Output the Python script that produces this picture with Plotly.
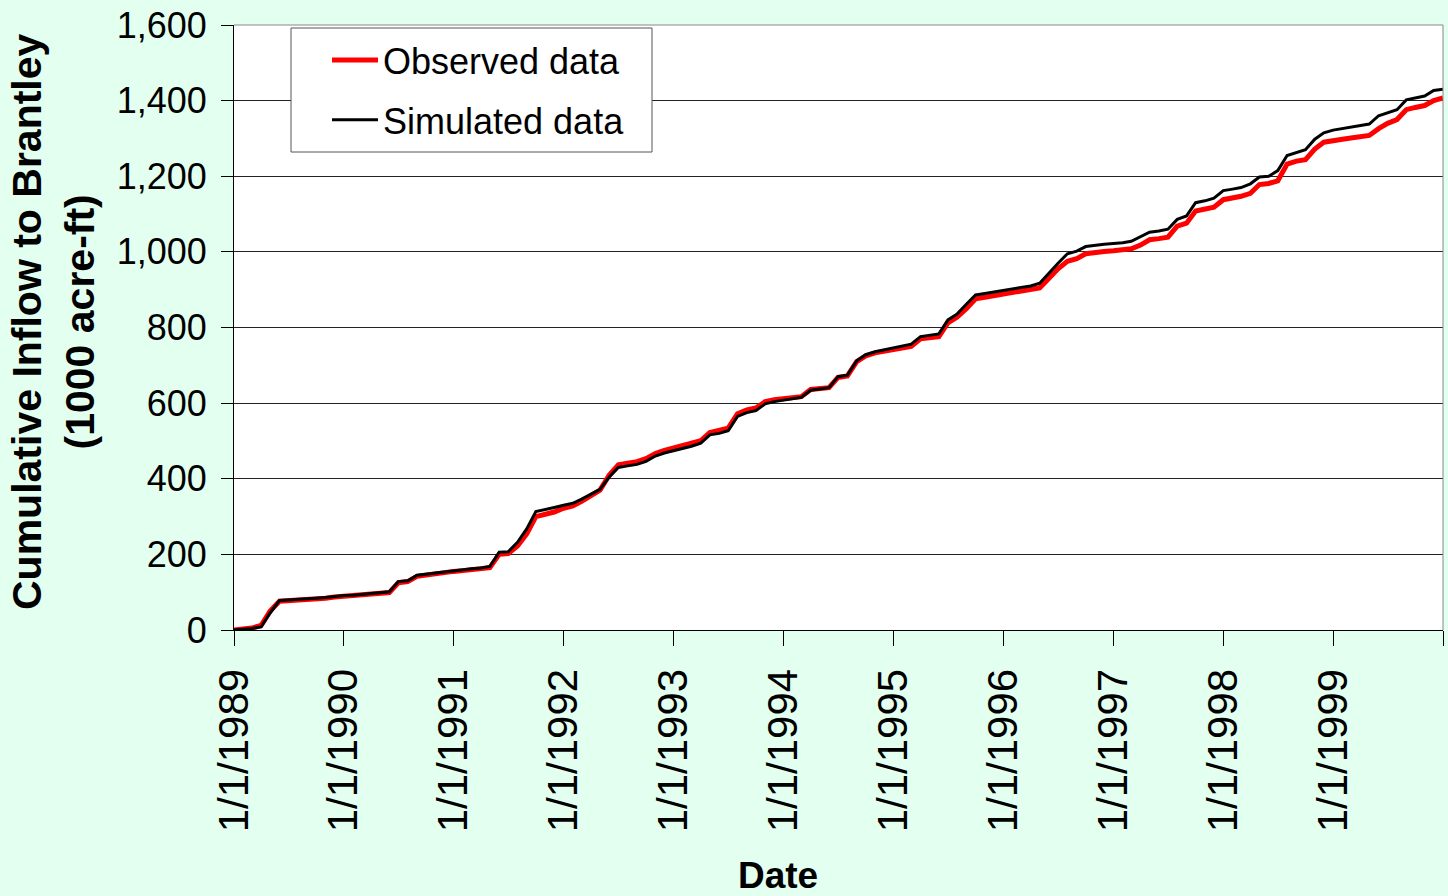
import pandas as pd
import plotly.graph_objects as go

# Monthly dates (first of each month), Jan 1989 .. Jan 2000
dates = pd.date_range("1989-01-01", "2000-01-01", freq="MS")

# Cumulative inflow to Brantley (1000 acre-ft)
observed = [
    0, 2, 5, 12, 50, 76, 77, 78, 80, 82, 84, 87,
    89, 90, 92, 94, 97, 99, 125, 128, 142, 146, 149, 152,
    155, 157, 160, 162, 165, 200, 202, 222, 255, 300, 306, 312,
    322, 328, 340, 356, 370, 410, 437, 441, 445, 453, 467, 475,
    481, 487, 493, 501, 522, 527, 534, 572, 582, 587, 604, 609,
    612, 614, 617, 636, 638, 641, 668, 672, 710, 725, 733, 738,
    742, 745, 750, 770, 773, 776, 812, 828, 850, 876, 880, 884,
    887, 891, 895, 899, 905, 930, 955, 975, 982, 995, 999, 1001,
    1003, 1005, 1008, 1018, 1032, 1035, 1039, 1068, 1076, 1108, 1112, 1118,
    1138, 1142, 1147, 1155, 1178, 1181, 1188, 1232, 1240, 1244, 1272, 1290,
    1295, 1298, 1301, 1305, 1308, 1326, 1340, 1350, 1376, 1382, 1387, 1400,
    1407,
]
simulated = [
    0, 2, 4, 8, 45, 78, 79, 80, 82, 84, 86, 89,
    91, 92, 94, 96, 99, 101, 128, 130, 145, 148, 151, 154,
    157, 159, 162, 164, 168, 206, 207, 232, 268, 313, 318, 324,
    330, 335, 346, 360, 372, 405, 430, 434, 438, 446, 460, 468,
    474, 480, 486, 494, 516, 520, 527, 565, 575, 580, 598, 604,
    608, 611, 615, 634, 637, 641, 670, 674, 712, 728, 736, 741,
    746, 750, 756, 776, 779, 783, 820, 836, 862, 886, 890, 894,
    898, 902, 906, 910, 917, 945, 970, 995, 1002, 1014, 1018, 1020,
    1022, 1024, 1028, 1040, 1052, 1055, 1060, 1086, 1095, 1130, 1135, 1142,
    1162, 1166, 1170, 1180, 1198, 1200, 1215, 1255, 1263, 1270, 1298, 1315,
    1322, 1326, 1330, 1334, 1338, 1360, 1368, 1376, 1402, 1406, 1412, 1427,
    1430,
]

x_tick_vals = [f"{y}-01-01" for y in range(1989, 2001)]
x_tick_text = [f"1/1/{y}" for y in range(1989, 2000)] + [""]
y_tick_vals = [0, 200, 400, 600, 800, 1000, 1200, 1400, 1600]

BG = "#E3FFF0"
ARIAL = "Liberation Sans, Arial, sans-serif"

# plot-area geometry in pixels (for placing paper-referenced items)
L, R, T, B = 234, 1443, 25, 630
PW, PH = R - L, B - T


def px(xp):
    return (xp - L) / PW


def py(yp):
    return (B - yp) / PH


fig = go.Figure()
fig.add_trace(go.Scatter(x=dates, y=observed, mode="lines", name="Observed data",
                         legendgroup="obs",
                         line=dict(color="#FF0000", width=5)))
fig.add_trace(go.Scatter(x=dates, y=simulated, mode="lines", name="Simulated data",
                         legendgroup="sim",
                         line=dict(color="#000000", width=3)))

fig.update_layout(
    width=1448, height=896,
    margin=dict(l=L, r=1448 - R, t=T, b=896 - B),
    paper_bgcolor=BG, plot_bgcolor="white",
    showlegend=True,
    legend=dict(x=px(327), y=py(30), xanchor="left", yanchor="top",
                bgcolor="rgba(0,0,0,0)", borderwidth=0,
                font=dict(family=ARIAL, size=36, color="black"),
                tracegroupgap=10, itemwidth=46),
    xaxis=dict(range=["1989-01-01", "2000-01-01"], tickmode="array",
               tickvals=x_tick_vals, ticktext=x_tick_text, tickangle=-90,
               ticks="outside", ticklen=15, tickcolor="black", tickwidth=1,
               ticklabelstandoff=6,
               showgrid=False, showline=True, linecolor="black", linewidth=1,
               zeroline=False,
               tickfont=dict(family=ARIAL, size=42, color="black")),
    yaxis=dict(range=[0, 1600], tickmode="array", tickvals=y_tick_vals,
               tickformat=",d", ticks="outside", ticklen=12, tickcolor="black",
               tickwidth=1, ticklabelstandoff=7,
               showgrid=True, gridcolor="#222222", gridwidth=1,
               showline=True, linecolor="black", linewidth=1, zeroline=False,
               tickfont=dict(family=ARIAL, size=36, color="black")),
    annotations=[
        dict(text="<b>Cumulative Inflow to Brantley</b><br><b>(1000 acre-ft)</b>",
             textangle=-90, xref="paper", yref="paper",
             x=px(53), y=py(322), xanchor="center", yanchor="middle",
             showarrow=False, font=dict(family=ARIAL, size=41, color="black")),
        dict(text="<b>Date</b>", xref="paper", yref="paper",
             x=px(778), y=py(875), xanchor="center", yanchor="middle",
             showarrow=False, font=dict(family=ARIAL, size=37, color="black")),
    ],
    shapes=[
        dict(type="line", xref="paper", yref="paper", x0=0, x1=1, y0=1, y1=1,
             line=dict(color="#888888", width=1)),
        dict(type="line", xref="paper", yref="paper", x0=1, x1=1, y0=0, y1=1,
             line=dict(color="#888888", width=1)),
        # legend box
        dict(type="rect", xref="paper", yref="paper", layer="above",
             x0=px(291), x1=px(652), y0=py(152), y1=py(28),
             fillcolor="white", line=dict(color="#555555", width=1)),
    ],
)

fig.write_html("out.html")
